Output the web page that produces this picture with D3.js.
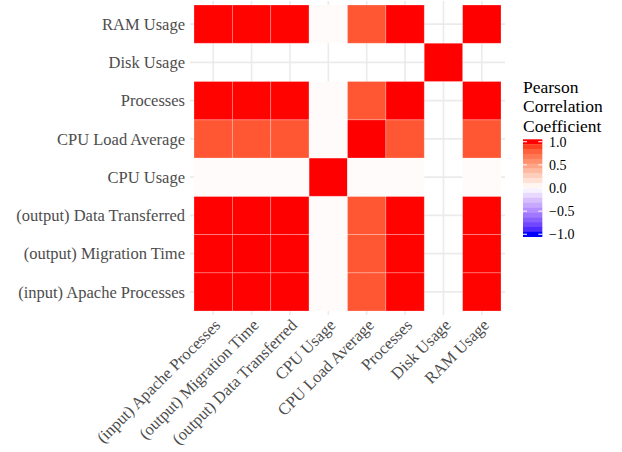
<!DOCTYPE html>
<html>
<head>
<meta charset="utf-8">
<script src="https://cdn.jsdelivr.net/npm/d3@7"></script>
<style>
  body { margin: 0; background: #fff; }
</style>
</head>
<body>
<div id="chart"></div>
<script>
//// data
var variables = ["(input) Apache Processes", "(output) Migration Time", "(output) Data Transferred",
  "CPU Usage", "CPU Load Average", "Processes", "Disk Usage", "RAM Usage"];

// one row per variable, same order as columns (null = no correlation, constant variable)
var rowApache    = [1.000, 0.999, 0.999, 0.02, 0.82, 0.998, null, 0.998];
var rowMigration = [0.999, 1.000, 0.999, 0.02, 0.82, 0.998, null, 0.998];
var rowData      = [0.999, 0.999, 1.000, 0.02, 0.82, 0.998, null, 0.998];
var rowCpu       = [0.02, 0.02, 0.02, 1.00, 0.02, 0.02, null, 0.02];
var rowLoad      = [0.82, 0.82, 0.82, 0.02, 1.00, 0.82, null, 0.82];
var rowProc      = [0.998, 0.998, 0.998, 0.02, 0.82, 1.000, null, 0.999];
var rowDisk      = [null, null, null, null, null, null, 1.00, null];
var rowRam       = [0.998, 0.998, 0.998, 0.02, 0.82, 0.999, null, 1.000];
var rows = [rowApache, rowMigration, rowData, rowCpu, rowLoad, rowProc, rowDisk, rowRam];

var legendTicks = [1.0, 0.5, 0.0, -0.5, -1.0];

var cells = [];
rows.forEach(function(r, i) {
  r.forEach(function(v, j) {
    if (v !== null) cells.push({ y: variables[i], x: variables[j], value: v });
  });
});

//// chart
var W = 622, H = 452;
var font = "'Liberation Serif', 'Times New Roman', Times, serif";
var svg = d3.select("#chart").append("svg")
  .attr("width", W).attr("height", H)
  .attr("font-family", font);

// panel (tiles span 194-501, y 5-311; panel expanded a little beyond)
var x = d3.scaleBand().domain(variables).range([194, 501]);
var y = d3.scaleBand().domain(variables.slice().reverse()).range([5, 311]);
var panel = { left: 190, right: 505, top: 1, bottom: 315 };

var color = d3.scaleLinear()
  .domain([-1, 0, 1])
  .range(["#0000FF", "#FFFFFF", "#FF0000"])
  .interpolate(d3.interpolateLab);

// grid
svg.append("g").selectAll("line.vx")
  .data(variables).enter().append("line")
  .attr("x1", function(d) { return x(d) + x.bandwidth() / 2; })
  .attr("x2", function(d) { return x(d) + x.bandwidth() / 2; })
  .attr("y1", panel.top).attr("y2", panel.bottom)
  .attr("stroke", "#EBEBEB").attr("stroke-width", 1.6);
svg.append("g").selectAll("line.hy")
  .data(variables).enter().append("line")
  .attr("y1", function(d) { return y(d) + y.bandwidth() / 2; })
  .attr("y2", function(d) { return y(d) + y.bandwidth() / 2; })
  .attr("x1", panel.left).attr("x2", panel.right)
  .attr("stroke", "#EBEBEB").attr("stroke-width", 1.6);

// tiles
svg.append("g").selectAll("rect")
  .data(cells).enter().append("rect")
  .attr("x", function(d) { return x(d.x); })
  .attr("y", function(d) { return y(d.y); })
  .attr("width", x.bandwidth())
  .attr("height", y.bandwidth())
  .attr("fill", function(d) { return color(d.value); })
  .attr("stroke", "rgba(255,255,255,0.3)")
  .attr("stroke-width", 0.8);

// y axis labels
svg.append("g").selectAll("text")
  .data(variables).enter().append("text")
  .attr("x", 185)
  .attr("y", function(d) { return y(d) + y.bandwidth() / 2; })
  .attr("dy", "0.35em")
  .attr("text-anchor", "end")
  .attr("fill", "#4D4D4D")
  .style("font-size", "16.5px")
  .text(function(d) { return d; });

// x axis labels, 45 degrees
svg.append("g").selectAll("text")
  .data(variables).enter().append("text")
  .attr("transform", function(d) {
    return "translate(" + (x(d) + x.bandwidth() / 2) + "," + 318 + ") rotate(-45)";
  })
  .attr("dy", "0.7em")
  .attr("text-anchor", "end")
  .attr("fill", "#4D4D4D")
  .style("font-size", "16.5px")
  .text(function(d) { return d; });

//// legend
var lg = svg.append("g");
["Pearson", "Correlation", "Coefficient"].forEach(function(t, i) {
  lg.append("text")
    .attr("x", 523).attr("y", 93 + i * 19.3)
    .attr("fill", "#000")
    .style("font-size", "17.5px")
    .text(t);
});

var barTop = 139.3, barBottom = 236.7, barLeft = 523, barW = 19.3, nbin = 20;
var binH = (barBottom - barTop) / nbin;
var bins = d3.range(nbin).map(function(i) { return 1 - 2 * i / (nbin - 1); });
lg.selectAll("rect.bin")
  .data(bins).enter().append("rect")
  .attr("x", barLeft)
  .attr("y", function(d, i) { return barTop + i * binH; })
  .attr("width", barW)
  .attr("height", binH + 0.3)
  .attr("fill", function(d) { return color(d); });

var ly = d3.scaleLinear().domain([1, -1]).range([barTop + binH / 2, barBottom - binH / 2]);
legendTicks.forEach(function(v) {
  [[barLeft, barLeft + 4], [barLeft + barW - 4, barLeft + barW]].forEach(function(s) {
    lg.append("line")
      .attr("x1", s[0]).attr("x2", s[1])
      .attr("y1", ly(v)).attr("y2", ly(v))
      .attr("stroke", "#fff").attr("stroke-width", 1);
  });
  lg.append("text")
    .attr("x", 549).attr("y", ly(v))
    .attr("dy", "0.35em")
    .attr("fill", "#000")
    .style("font-size", "14px")
    .text(d3.format(".1f")(v).replace("-", "\u2212"));
});
</script>
</body>
</html>
